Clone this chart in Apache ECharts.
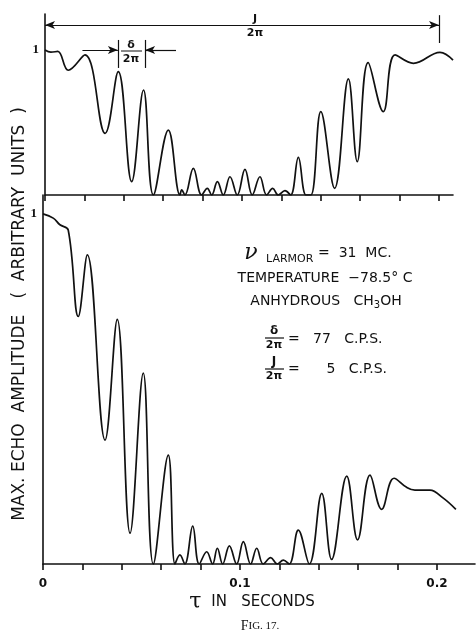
<html>
<head>
<meta charset="UTF-8" />
<title>Fig. 17</title>
<style>
  body { margin: 0; background: #fff; }
  #main { width: 476px; height: 631px; }
</style>
</head>
<body>
<div id="main"></div>
<script type="text/javascript" src="https://cdn.jsdelivr.net/npm/echarts@6/dist/echarts.min.js"></script>
<script type="text/javascript">
// tau (s) and echo amplitude
var topTau = [0, 0.003, 0.0065, 0.0118, 0.0203, 0.0305, 0.0372, 0.044, 0.050, 0.055, 0.0626, 0.0685, 0.0694, 0.071,
  0.0753, 0.0795, 0.0824, 0.0846, 0.0875, 0.0905, 0.0939, 0.0976, 0.1015, 0.1052, 0.1091, 0.1125, 0.1156, 0.1184,
  0.1218, 0.1247, 0.1286, 0.1325, 0.135, 0.140, 0.147, 0.154, 0.1585, 0.164, 0.1717, 0.1777, 0.187, 0.2005, 0.2071];
var topAmp = [1.0, 0.985, 0.99, 0.86, 0.966, 0.425, 0.85, 0.092, 0.724, 0, 0.448, 0, 0.035, 0,
  0.184, 0, 0.046, 0, 0.092, 0, 0.126, 0, 0.177, 0, 0.126, 0, 0.046, 0,
  0.03, 0, 0.26, 0, 0, 0.575, 0.046, 0.80, 0.23, 0.913, 0.575, 0.966, 0.908, 0.984, 0.93];

var botTau = [0, 0.0052, 0.0086, 0.0128, 0.0179, 0.0225, 0.0315, 0.0377, 0.0442, 0.0509, 0.056, 0.0636, 0.067, 0.0695,
  0.072, 0.076, 0.0793, 0.0831, 0.0861, 0.0885, 0.0912, 0.0946, 0.0983, 0.1017, 0.1054, 0.1085, 0.1118, 0.1156,
  0.1189, 0.122, 0.125, 0.1296, 0.1352, 0.1415, 0.1465, 0.1542, 0.1597, 0.166, 0.1719, 0.1782, 0.1846, 0.1888,
  0.1964, 0.2032, 0.2096];
var botAmp = [1.0, 0.988, 0.969, 0.954, 0.707, 0.883, 0.354, 0.699, 0.088, 0.545, 0, 0.311, 0, 0.026,
  0, 0.108, 0, 0.035, 0, 0.045, 0, 0.052, 0, 0.064, 0, 0.045, 0, 0.018,
  0, 0.011, 0, 0.097, 0, 0.202, 0.013, 0.251, 0.069, 0.254, 0.156, 0.245, 0.219, 0.211,
  0.211, 0.188, 0.156];

var tauTicks = [0, 0.02, 0.04, 0.06, 0.08, 0.1, 0.12, 0.14, 0.16, 0.18, 0.2];
var tauLabels = [0, 0.1, 0.2];
var ampLabels = [1];

// J/2pi and delta/2pi markers on the upper trace
var jArrow = [[0, 1.172], [0.2, 1.172]];
var jBar = [[0.2, 1.048], [0.2, 1.24]];
var dArrowL = [[0.019, 1.0], [0.037, 1.0]];
var dArrowR = [[0.0665, 1.0], [0.0508, 1.0]];
var dBars = [[[0.037, 0.876], [0.037, 1.069]], [[0.0508, 0.876], [0.0508, 1.069]]];

function pairs(xs, ys) {
  var out = [];
  for (var i = 0; i < xs.length; i++) out.push([xs[i], ys[i]]);
  return out;
}
function seg(a, b, sym) {
  return [{ coord: a, symbol: sym ? sym[0] : 'none' }, { coord: b, symbol: sym ? sym[1] : 'none' }];
}

var ink = '#111';
var font = '"DejaVu Sans", sans-serif';

var myChart = echarts.init(document.getElementById('main'));

function xAx(grid, max, showLabels) {
  return {
    type: 'value', gridIndex: grid, min: 0, max: max,
    splitLine: { show: false },
    axisLine: { lineStyle: { color: ink, width: 1.6 } },
    axisTick: { show: true, length: 6, customValues: tauTicks, lineStyle: { color: ink, width: 1.6 } },
    axisLabel: {
      show: showLabels, customValues: tauLabels, margin: 14,
      color: ink, fontFamily: font, fontWeight: 'bold', fontSize: 12,
      formatter: function (v) { return String(v); }
    }
  };
}
function yAx(grid, max) {
  return {
    type: 'value', gridIndex: grid, min: 0, max: max,
    splitLine: { show: false },
    axisLine: { show: true, lineStyle: { color: ink, width: 1.6 } },
    axisTick: { show: false },
    axisLabel: { customValues: ampLabels, margin: 6, color: ink, fontFamily: 'Liberation Serif', fontWeight: 'bold', fontSize: 13 }
  };
}

var option = {
  animation: false,
  backgroundColor: '#fff',
  grid: [
    { left: 45, top: 14, width: 408, height: 181 },
    { left: 43, top: 195, width: 432, height: 369 }
  ],
  xAxis: [xAx(0, 0.2071, false), xAx(1, 0.2193, true)],
  yAxis: [yAx(0, 1.248), yAx(1, 1.054)],
  series: [
    {
      type: 'line', xAxisIndex: 0, yAxisIndex: 0,
      data: pairs(topTau, topAmp), smooth: 0.4, showSymbol: false,
      lineStyle: { color: ink, width: 1.7 },
      markLine: {
        silent: true, symbolSize: [6, 10], label: { show: false },
        lineStyle: { color: ink, width: 1.2, type: 'solid' },
        data: [
          seg(jArrow[0], jArrow[1], ['arrow', 'arrow']),
          seg(jBar[0], jBar[1]),
          seg(dArrowL[0], dArrowL[1], ['none', 'arrow']),
          seg(dArrowR[0], dArrowR[1], ['none', 'arrow']),
          seg(dBars[0][0], dBars[0][1]),
          seg(dBars[1][0], dBars[1][1])
        ]
      }
    },
    {
      type: 'line', xAxisIndex: 1, yAxisIndex: 1,
      data: pairs(botTau, botAmp), smooth: 0.4, showSymbol: false,
      lineStyle: { color: ink, width: 1.7 }
    }
  ],
  graphic: [
    // axis titles
    { type: 'text', x: 20, y: 314, rotation: Math.PI / 2,
      style: { text: 'MAX. ECHO  AMPLITUDE   (  ARBITRARY  UNITS  )', fill: ink, font: '17px ' + font,
        align: 'center', verticalAlign: 'middle' } },
    { type: 'text', x: 252, y: 602,
      style: { text: '{t|τ}   {s|IN   SECONDS}', align: 'center', verticalAlign: 'middle', fill: ink,
        rich: { t: { fontSize: 22, fontFamily: 'DejaVu Serif', fill: ink },
                s: { fontSize: 15, fontFamily: font, fill: ink } } } },
    { type: 'text', x: 260, y: 626,
      style: { text: '{a|F}{b|IG. 17.}', align: 'center', verticalAlign: 'middle', fill: ink,
        rich: { a: { fontSize: 14, fontFamily: 'Liberation Serif', fill: ink },
                b: { fontSize: 11, fontFamily: 'Liberation Serif', fill: ink } } } },
    // J / 2pi
    { type: 'text', x: 255, y: 19, style: { text: 'J', fill: ink, font: 'bold 11px ' + font, align: 'center', verticalAlign: 'middle' } },
    { type: 'text', x: 255, y: 33, style: { text: '2π', fill: ink, font: 'bold 11px ' + font, align: 'center', verticalAlign: 'middle' } },
    // delta / 2pi
    { type: 'text', x: 131, y: 45, style: { text: 'δ', fill: ink, font: 'bold 11px ' + font, align: 'center', verticalAlign: 'middle' } },
    { type: 'line', shape: { x1: 121, y1: 51, x2: 142, y2: 51 }, style: { stroke: ink, lineWidth: 1 } },
    { type: 'text', x: 131, y: 59, style: { text: '2π', fill: ink, font: 'bold 11px ' + font, align: 'center', verticalAlign: 'middle' } },
    // conditions block
    { type: 'text', x: 251, y: 253, style: { text: 'ν', fill: ink, font: 'italic 22px "DejaVu Serif"', align: 'center', verticalAlign: 'middle' } },
    { type: 'text', x: 266, y: 259, style: { text: 'LARMOR', fill: ink, font: '11px ' + font, align: 'left', verticalAlign: 'middle' } },
    { type: 'text', x: 318, y: 253, style: { text: '=  31  MC.', fill: ink, font: '14px ' + font, align: 'left', verticalAlign: 'middle' } },
    { type: 'text', x: 325, y: 278, style: { text: 'TEMPERATURE  −78.5° C', fill: ink, font: '14px ' + font, align: 'center', verticalAlign: 'middle' } },
    { type: 'text', x: 326, y: 301,
      style: { text: '{n|ANHYDROUS   CH}{s|3}{n|OH}', align: 'center', verticalAlign: 'middle', fill: ink,
        rich: { n: { fontSize: 14, fontFamily: font, fill: ink },
                s: { fontSize: 10, fontFamily: font, fill: ink, padding: [8, 0, 0, 0] } } } },
    { type: 'text', x: 274, y: 331, style: { text: 'δ', fill: ink, font: 'bold 12px ' + font, align: 'center', verticalAlign: 'middle' } },
    { type: 'line', shape: { x1: 265, y1: 338, x2: 284, y2: 338 }, style: { stroke: ink, lineWidth: 1.2 } },
    { type: 'text', x: 274, y: 345, style: { text: '2π', fill: ink, font: 'bold 11px ' + font, align: 'center', verticalAlign: 'middle' } },
    { type: 'text', x: 288, y: 339, style: { text: '=   77   C.P.S.', fill: ink, font: '14px ' + font, align: 'left', verticalAlign: 'middle' } },
    { type: 'text', x: 274, y: 362, style: { text: 'J', fill: ink, font: 'bold 12px ' + font, align: 'center', verticalAlign: 'middle' } },
    { type: 'line', shape: { x1: 265, y1: 369, x2: 284, y2: 369 }, style: { stroke: ink, lineWidth: 1.2 } },
    { type: 'text', x: 274, y: 376, style: { text: '2π', fill: ink, font: 'bold 11px ' + font, align: 'center', verticalAlign: 'middle' } },
    { type: 'text', x: 288, y: 369, style: { text: '=      5   C.P.S.', fill: ink, font: '14px ' + font, align: 'left', verticalAlign: 'middle' } }
  ]
};

myChart.setOption(option);
</script>
</body>
</html>
